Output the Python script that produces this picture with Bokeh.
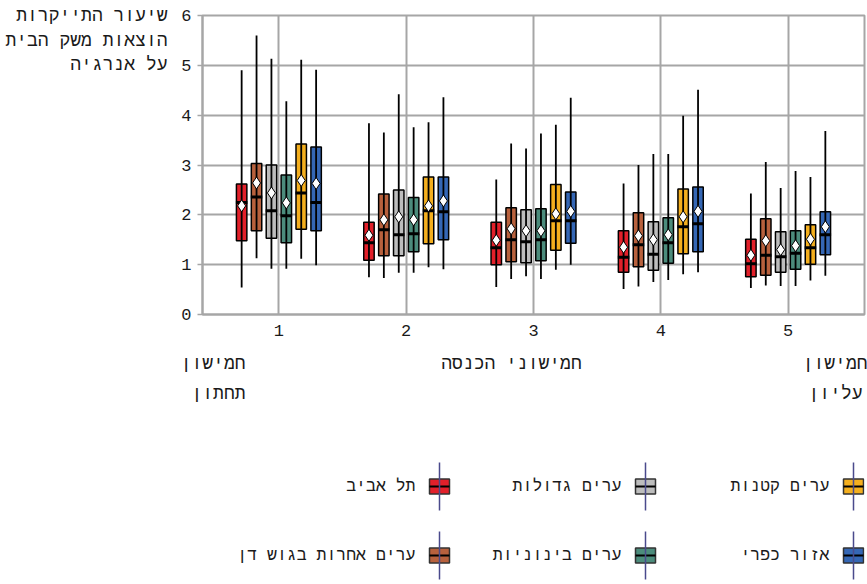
from bokeh.plotting import figure
from bokeh.models import ColumnDataSource, Range1d, FixedTicker, LinearAxis
from bokeh.layouts import column
from bokeh.embed import file_html
from bokeh.resources import INLINE
from bokeh.core.properties import value

# ---------------- data ----------------
quintiles = [1, 2, 3, 4, 5]
quintile_labels = ["1", "2", "3", "4", "5"]
y_ticks = [0, 1, 2, 3, 4, 5, 6]

series_names = ["תל אביב", "ערים אחרות בגוש דן", "ערים גדולות",
                "ערים בינוניות", "ערים קטנות", "אזור כפרי"]
series_colors = ["#E2202A", "#B8613D", "#BDBDBD", "#4C8C7C", "#F4AF1E", "#3567B5"]

# rows: series (same order as series_names); columns: quintiles 1..5
whisker_low = [
    [0.54, 0.75, 0.55, 0.51, 0.53],
    [1.13, 0.73, 0.71, 0.56, 0.58],
    [0.92, 0.84, 0.77, 0.65, 0.57],
    [0.92, 0.84, 0.71, 0.69, 0.57],
    [1.12, 0.95, 0.90, 0.81, 0.68],
    [0.99, 0.91, 1.00, 0.85, 0.78],
]
quartile_1 = [
    [1.48, 1.09, 1.00, 0.85, 0.76],
    [1.68, 1.18, 1.06, 0.96, 0.79],
    [1.53, 1.18, 1.04, 0.89, 0.85],
    [1.44, 1.26, 1.08, 1.03, 0.91],
    [1.71, 1.42, 1.29, 1.22, 1.01],
    [1.68, 1.50, 1.43, 1.26, 1.20],
]
median = [
    [2.25, 1.44, 1.34, 1.15, 1.02],
    [2.36, 1.70, 1.50, 1.40, 1.19],
    [2.08, 1.60, 1.46, 1.21, 1.16],
    [1.98, 1.62, 1.50, 1.44, 1.23],
    [2.44, 2.08, 1.88, 1.76, 1.34],
    [2.25, 2.06, 1.88, 1.82, 1.60],
]
mean = [
    [2.18, 1.59, 1.49, 1.35, 1.19],
    [2.64, 1.90, 1.72, 1.58, 1.48],
    [2.44, 1.96, 1.68, 1.50, 1.30],
    [2.24, 1.90, 1.68, 1.60, 1.38],
    [2.69, 2.18, 2.02, 1.96, 1.51],
    [2.63, 2.28, 2.07, 2.07, 1.76],
]
quartile_3 = [
    [2.62, 1.85, 1.85, 1.68, 1.51],
    [3.03, 2.42, 2.14, 2.04, 1.92],
    [3.00, 2.50, 2.10, 1.86, 1.66],
    [2.80, 2.35, 2.12, 1.94, 1.68],
    [3.42, 2.76, 2.61, 2.52, 1.80],
    [3.36, 2.76, 2.46, 2.56, 2.06],
]
whisker_high = [
    [4.90, 3.84, 2.71, 2.63, 2.43],
    [5.60, 3.65, 3.43, 3.00, 3.06],
    [5.13, 4.42, 3.33, 3.22, 2.54],
    [4.28, 3.76, 3.63, 3.22, 2.88],
    [5.11, 3.86, 3.81, 3.99, 2.76],
    [4.91, 4.36, 4.35, 4.51, 3.68],
]

y_title_lines = ["שיעור התייקרות", "הוצאות משק הבית", "על אנרגיה"]
x_title = "חמישוני הכנסה"
low_label_lines = ["חמישון", "תחתון"]
high_label_lines = ["חמישון", "עליון"]

# ---------------- style ----------------
FONT = "Liberation Mono"
TEXT_COLOR = "#1a1a1a"
GRID_COLOR = "#A6A6A6"
STEP = 0.117      # spacing between series within a quintile
BOX_W = 0.082
MED_HALF = 0.045
CHAR_W = 0.6      # mono glyph advance, em

W, H_MAIN, H_LEG = 867, 420, 164
FL, FR, FT, FB = 202, 864, 15, 314   # frame pixel bounds
X0, X1, Y0, Y1 = 0.4, 5.6, 0, 6


def px2x(px):
    return X0 + (px - FL) / (FR - FL) * (X1 - X0)


def px2y(py):
    return Y0 + (FB - py) / (FB - FT) * (Y1 - Y0)


p = figure(width=W, height=H_MAIN, x_range=Range1d(X0, X1), y_range=Range1d(Y0, Y1),
           output_backend="svg", toolbar_location=None,
           min_border_left=FL, min_border_right=W - FR,
           min_border_top=FT, min_border_bottom=H_MAIN - FB)
p.background_fill_color = "white"
p.border_fill_color = "white"
p.outline_line_color = GRID_COLOR
p.outline_line_width = 2

p.xaxis.ticker = FixedTicker(ticks=quintiles)
p.xaxis.major_label_overrides = {q: lab for q, lab in zip(quintiles, quintile_labels)}
p.yaxis.ticker = FixedTicker(ticks=y_ticks)
p.xgrid.ticker = FixedTicker(ticks=quintiles)
p.ygrid.ticker = FixedTicker(ticks=y_ticks)
for g in (p.xgrid, p.ygrid):
    g.grid_line_color = GRID_COLOR
    g.grid_line_width = 2
for ax in (p.xaxis, p.yaxis):
    ax.axis_line_color = GRID_COLOR
    ax.axis_line_width = 2
    ax.major_tick_line_color = GRID_COLOR
    ax.major_tick_line_width = 1.5
    ax.minor_tick_line_color = None
    ax.major_label_text_font = FONT
    ax.major_label_text_font_size = "17px"
    ax.major_label_text_color = TEXT_COLOR
p.yaxis.major_tick_out = 5
p.yaxis.major_tick_in = 0
p.yaxis.major_label_standoff = 6
p.xaxis.major_tick_out = 0
p.xaxis.major_tick_in = 0
p.xaxis.major_label_standoff = 10

for i, (name, col) in enumerate(zip(series_names, series_colors)):
    off = (i - 2.5) * STEP
    xs = [q + off for q in quintiles]
    src = ColumnDataSource(dict(
        x=xs,
        x0=[x - MED_HALF for x in xs], x1=[x + MED_HALF for x in xs],
        low=whisker_low[i], q1=quartile_1[i], med=median[i],
        mean=mean[i], q3=quartile_3[i], high=whisker_high[i]))
    p.vbar(x="x", width=BOX_W, bottom="q1", top="q3", source=src,
           fill_color=col, line_color="black", line_width=1.5)
    p.segment(x0="x", y0="low", x1="x", y1="high", source=src,
              line_color="black", line_width=1.8)
    p.segment(x0="x0", y0="med", x1="x1", y1="med", source=src,
              line_color="black", line_width=3)
    p.scatter(x="x", y="mean", source=src, marker="diamond", size=12,
              fill_color="white", line_color="black", line_width=1)


def text_axis(ticks, labels, side, standoff, size):
    ax = LinearAxis(ticker=FixedTicker(ticks=ticks),
                    major_label_overrides={t: l for t, l in zip(ticks, labels)})
    ax.axis_line_color = None
    ax.major_tick_line_color = None
    ax.minor_tick_line_color = None
    ax.major_tick_out = 0
    ax.major_tick_in = 0
    ax.major_label_standoff = standoff
    ax.major_label_text_font = FONT
    ax.major_label_text_font_size = size
    ax.major_label_text_color = TEXT_COLOR
    p.add_layout(ax, side)
    return ax


# y-axis title: three lines on an outer left axis
title_ticks = [round(px2y(15 + 25 * k), 3) for k in range(len(y_title_lines))]
text_axis(title_ticks, y_title_lines, "left", 11, "18px")

# texts under the x axis, placed by their centres
fs = 18


def centre_right(px_right, s):
    return px_right - len(s) * CHAR_W * fs / 2


def centre_left(px_left, s):
    return px_left + len(s) * CHAR_W * fs / 2


row1_px = [centre_right(245, low_label_lines[0]), 511, centre_left(808, high_label_lines[0])]
row1_txt = [low_label_lines[0], x_title, high_label_lines[0]]
text_axis([round(px2x(v), 4) for v in row1_px], row1_txt, "below", 15, "18px")
row2_px = [centre_right(245, low_label_lines[1]), centre_left(808, high_label_lines[1])]
row2_txt = [low_label_lines[1], high_label_lines[1]]
text_axis([round(px2x(v), 4) for v in row2_px], row2_txt, "below", 7, "18px")

# ---------------- legend figure ----------------
leg = figure(width=W, height=H_LEG, x_range=Range1d(FL, FR),
             y_range=Range1d(H_MAIN + H_LEG, H_MAIN),
             output_backend="svg", toolbar_location=None,
             min_border_left=FL, min_border_right=W - FR, min_border_top=0, min_border_bottom=0)
leg.axis.visible = False
leg.grid.visible = False
leg.outline_line_color = None
leg.background_fill_color = "white"
leg.border_fill_color = "white"

col_x = [439, 645, 853]
row_y = [486, 555]
lx = [col_x[i // 2] for i in range(len(series_names))]
ly = [row_y[i % 2] for i in range(len(series_names))]
lsrc = ColumnDataSource(dict(
    x=lx, y=ly, color=series_colors, name=series_names,
    xl=[x - 10 for x in lx], xr=[x + 10 for x in lx],
    yt=[y - 24 for y in ly], yb=[y + 24 for y in ly],
    tx=[x - 24 for x in lx]))
leg.rect(x="x", y="y", width=20, height=15, source=lsrc,
         fill_color="color", line_color="#333333", line_width=1.5)
leg.segment(x0="xl", y0="y", x1="xr", y1="y", source=lsrc, line_color="black", line_width=2)
leg.segment(x0="x", y0="yt", x1="x", y1="yb", source=lsrc, line_color="#4a4a8c", line_width=1.5)
leg.text(x="tx", y="y", text="name", source=lsrc, text_align="right", text_baseline="middle",
         text_font=value(FONT), text_font_size="16.5px", text_color=TEXT_COLOR)

layout = column(p, leg, spacing=0)
open("out.html", "w").write(file_html(layout, INLINE))
